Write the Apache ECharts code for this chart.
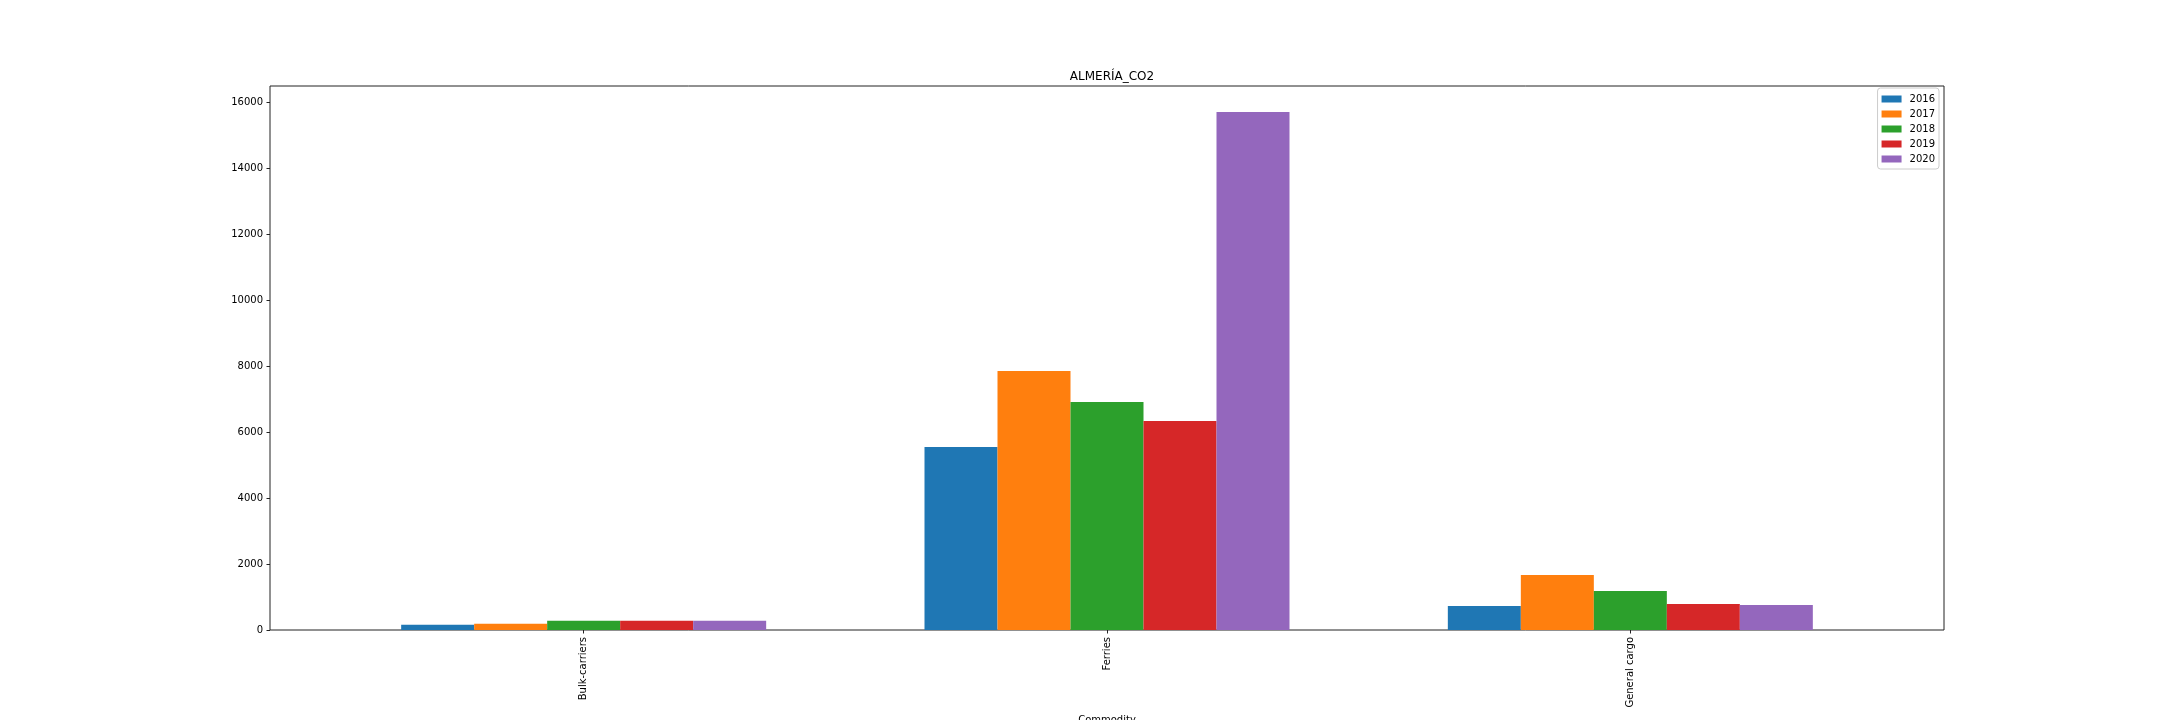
<!DOCTYPE html>
<html>
<head>
<meta charset="utf-8">
<script src="https://cdn.jsdelivr.net/npm/echarts@6/dist/echarts.min.js"></script>
<style>
html,body{margin:0;padding:0;background:#fff;}
#chart{width:2160px;height:720px;}
</style>
</head>
<body>
<div id="chart"></div>
<script>
const categories = ['Bulk-carriers', 'Ferries', 'General cargo'];
const years = ['2016', '2017', '2018', '2019', '2020'];
const s2016 = [160, 5545, 727];
const s2017 = [190, 7848, 1667];
const s2018 = [282, 6909, 1182];
const s2019 = [282, 6333, 788];
const s2020 = [282, 15697, 758];
const yTicks = [0, 2000, 4000, 6000, 8000, 10000, 12000, 14000, 16000];
const yMax = 16482;
const colors = ['#1f77b4', '#ff7f0e', '#2ca02c', '#d62728', '#9467bd'];
const seriesValues = [s2016, s2017, s2018, s2019, s2020];

const FONT = 'DejaVu Sans';
const chart = echarts.init(document.getElementById('chart'), null, {renderer: 'canvas'});

const series = years.map((y, i) => ({
  name: y,
  type: 'bar',
  xAxisIndex: 1,
  yAxisIndex: 1,
  data: seriesValues[i],
  barWidth: 73,
  barGap: '0%',
  itemStyle: {color: colors[i]},
  emphasis: {disabled: true},
  animation: false
}));

chart.setOption({
  animation: false,
  backgroundColor: '#fff',
  textStyle: {fontFamily: FONT},
  title: {
    text: 'ALMERÍA_CO2',
    left: 1107,
    textAlign: 'center',
    top: 66,
    textStyle: {fontFamily: FONT, fontSize: 12, fontWeight: 'normal', color: '#000'}
  },
  legend: {
    data: years,
    orient: 'vertical',
    right: 221,
    top: 88,
    icon: 'rect',
    itemWidth: 20,
    itemHeight: 7,
    itemGap: 5,
    padding: [6, 4, 5, 4],
    borderColor: '#cccccc',
    borderWidth: 1,
    borderRadius: 3,
    backgroundColor: 'rgba(255,255,255,0.8)',
    textStyle: {fontFamily: FONT, fontSize: 10, color: '#000', lineHeight: 10, padding: [0, 0, 0, 3]},
    selectedMode: false
  },
  grid: [
    {left: 270, right: 216, top: 86, bottom: 90, show: true, borderColor: '#222', borderWidth: 1, backgroundColor: 'transparent', containLabel: false, outerBoundsMode: 'none'},
    {left: 322, right: 268, top: 86, bottom: 90, containLabel: false, outerBoundsMode: 'none'}
  ],
  xAxis: [
    {gridIndex: 0, type: 'value', min: 0, max: 1, show: false},
    {
      gridIndex: 1,
      type: 'category',
      data: categories,
      boundaryGap: true,
      axisLine: {show: false},
      axisTick: {show: true, alignWithLabel: true, length: 3.5, lineStyle: {color: '#222', width: 1}},
      axisLabel: {rotate: 90, fontFamily: FONT, fontSize: 10, color: '#000', margin: 7},
      splitLine: {show: false},
      name: 'Commodity',
      nameLocation: 'middle',
      nameGap: 85,
      nameTextStyle: {fontFamily: FONT, fontSize: 10, color: '#000'}
    }
  ],
  yAxis: [
    {
      gridIndex: 0,
      type: 'value',
      min: 0,
      max: yMax,
      axisLine: {show: false},
      axisTick: {show: true, length: 3.5, customValues: yTicks, lineStyle: {color: '#222', width: 1}},
      axisLabel: {fontFamily: FONT, fontSize: 10, color: '#000', margin: 7, customValues: yTicks, formatter: v => String(v)},
      splitLine: {show: false}
    },
    {gridIndex: 1, type: 'value', min: 0, max: yMax, show: false, splitLine: {show: false}}
  ],
  series: series
});
</script>
</body>
</html>
